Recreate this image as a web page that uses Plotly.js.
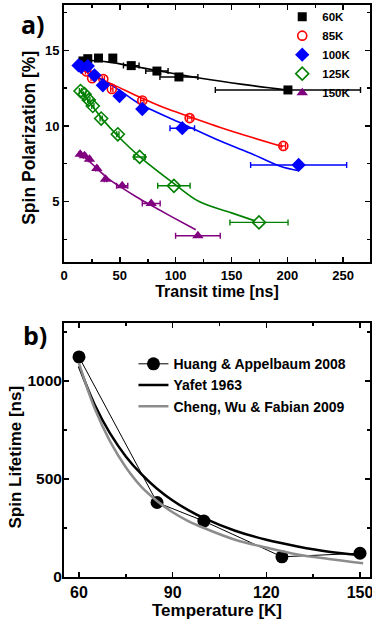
<!DOCTYPE html>
<html><head><meta charset="utf-8">
<script src="https://cdn.plot.ly/plotly-3.0.1.min.js"></script>
<style>html,body{margin:0;padding:0;background:#fff}#g{width:372px;height:622px}</style>
</head><body><div id="g"></div>
<script>
// ---- Panel a: spin polarization vs transit time ----
const t60 = [17, 21.3, 30.9, 43.7, 60.2, 83.2, 102.9, 200.5];
const p60 = [14.3, 14.45, 14.49, 14.49, 13.99, 13.63, 13.24, 12.38];
const e60 = [1, 1, 1, 1.5, 7, 10, 17, 65];
const f60x = [18, 40, 60, 83, 103, 121, 160, 200];
const f60y = [14.38, 14.22, 13.98, 13.67, 13.4, 13.17, 12.75, 12.38];

const t85 = [20.2, 25.2, 35.2, 42.8, 70.1, 112.5, 196.4];
const p85 = [13.6, 13.15, 13.1, 12.45, 11.68, 10.52, 8.68];
const e85 = [1, 1, 1, 1, 1.5, 2, 2];
const f85x = [18, 30, 45, 68, 90, 112, 140, 170, 196];
const f85y = [13.65, 13.2, 12.7, 11.9, 11.2, 10.62, 9.9, 9.2, 8.62];

const t100 = [13.0, 15.5, 21.3, 27.3, 34.8, 49.7, 70.1, 105.9, 210.1];
const p100 = [14.0, 13.9, 13.96, 13.35, 12.69, 11.98, 11.12, 9.85, 7.42];
const e100 = [1, 1, 1, 1, 1, 1, 3, 11, 43];
const f100x = [13, 30, 50, 68, 106, 140, 170, 193, 210];
const f100y = [14.1, 13.25, 12.35, 11.45, 10.15, 9.0, 8.1, 7.35, 7.03];

const t125 = [14.8, 18.4, 22.2, 25.8, 33.3, 48.2, 67.7, 98.4, 174.6];
const p125 = [12.31, 12.1, 11.72, 11.32, 10.49, 9.45, 7.95, 6.04, 3.62];
const e125 = [1, 1, 1, 1, 1, 1, 5, 14.5, 26];
const f125x = [14, 25, 35, 48, 68, 100, 121, 150, 171];
const f125y = [12.4, 11.35, 10.4, 9.35, 7.95, 6.1, 5.0, 4.25, 3.72];

const t150 = [14.5, 18.4, 22.8, 29.4, 37.2, 52.1, 78.1, 119.9];
const p150 = [8.13, 8.02, 7.8, 7.19, 6.48, 6.04, 4.87, 2.74];
const e150 = [1, 1, 1, 1, 1, 5, 8, 20];
const f150x = [14, 22, 30, 40, 52, 65, 78, 95, 118];
const f150y = [8.2, 7.7, 7.15, 6.5, 5.9, 5.3, 4.75, 4.05, 3.13];

// ---- Panel b: spin lifetime vs temperature ----
const tempH = [60, 85, 100, 125, 150];
const lifeH = [1122, 380, 285, 103, 121];
const tempY = [60, 65, 70, 75, 80, 85, 90, 95, 100, 110, 120, 130, 140, 150];
const lifeY = [1075, 880, 731, 615, 524, 450, 390, 341, 300, 236, 190, 156, 129, 112];
const tempC = [60, 65, 70, 75, 80, 85, 90, 95, 100, 110, 120, 130, 140, 151];
const lifeC = [1090, 860, 690, 560, 460, 388, 330, 285, 250, 190, 150, 115, 92, 70];

const ser = [
  {name:'60K', x:t60, y:p60, e:e60, fx:f60x, fy:f60y, c:'#000000', sym:'square', sz:9, open:false},
  {name:'85K', x:t85, y:p85, e:e85, fx:f85x, fy:f85y, c:'#ff0000', sym:'circle-open', sz:9, open:true},
  {name:'100K', x:t100, y:p100, e:e100, fx:f100x, fy:f100y, c:'#0000ff', sym:'diamond', sz:11, open:false},
  {name:'125K', x:t125, y:p125, e:e125, fx:f125x, fy:f125y, c:'#008000', sym:'diamond-open', sz:10, open:true},
  {name:'150K', x:t150, y:p150, e:e150, fx:f150x, fy:f150y, c:'#800080', sym:'triangle-up', sz:10, open:false}
];

const FONT = 'Liberation Sans, Arial, sans-serif';
const traces = [];
ser.forEach(s => {
  traces.push({x:s.fx, y:s.fy, xaxis:'x', yaxis:'y', mode:'lines', line:{color:s.c, width:1.6, shape:'spline'}, showlegend:false, hoverinfo:'skip'});
});
ser.forEach(s => {
  traces.push({x:s.x, y:s.y, xaxis:'x', yaxis:'y', mode:'markers', name:s.name, legend:'legend',
    marker:{symbol:s.sym, size:s.sz, color:s.c, line:{color:s.c, width:s.open?1.6:0}},
    error_x:{type:'data', array:s.e, visible:true, color:s.c, thickness:1.4, width:3}});
});
traces.push({x:tempH, y:lifeH, xaxis:'x2', yaxis:'y2', mode:'lines+markers', name:'Huang & Appelbaum 2008', legend:'legend2',
  line:{color:'#000', width:1}, marker:{symbol:'circle', size:13, color:'#000'}});
traces.push({x:tempY, y:lifeY, xaxis:'x2', yaxis:'y2', mode:'lines', name:'Yafet 1963', legend:'legend2',
  line:{color:'#000', width:2.5, shape:'spline'}});
traces.push({x:tempC, y:lifeC, xaxis:'x2', yaxis:'y2', mode:'lines', name:'Cheng, Wu & Fabian 2009', legend:'legend2',
  line:{color:'#8c8c8c', width:2.5, shape:'spline'}});

function ax(o){
  return Object.assign({showline:true, linecolor:'#000', linewidth:2, mirror:'ticks', ticks:'inside', ticklen:5, tickwidth:1.5, tickcolor:'#000',
    showgrid:false, zeroline:false, ticklabeloverflow:'allow', tickfont:{family:FONT, size:13, color:'#000', weight:700}}, o);
}
const mn = d => ({ticks:'inside', ticklen:3, tickwidth:1.5, tickcolor:'#000', dtick:d, showgrid:false});
const TF = (s) => ({family:FONT, size:s, color:'#000', weight:700});

const layout = {
  width:372, height:622, margin:{l:64, r:2, t:5, b:45},
  paper_bgcolor:'#fff', plot_bgcolor:'#fff', showlegend:true,
  xaxis: ax({domain:[0,1], anchor:'y', range:[0,274], tick0:0, dtick:50, minor:mn(25),
    title:{text:'Transit time [ns]', font:TF(16), standoff:4}}),
  yaxis: ax({domain:[0.5507,1], anchor:'x', range:[1,18], tick0:0, dtick:5, minor:mn(2.5)}),
  xaxis2: ax({domain:[0,1], anchor:'y2', range:[55.2,153.2], tick0:0, dtick:30, minor:mn(15),
    tickfont:TF(16), title:{text:'Temperature [K]', font:TF(17), standoff:2}}),
  yaxis2: ax({domain:[0,0.444], anchor:'x2', range:[0,1295], tick0:0, dtick:500, minor:mn(250), tickfont:TF(15.5), ticklabelstandoff:-3}),
  legend:{x:0.955, y:1.005, xanchor:'right', yanchor:'top', bgcolor:'rgba(0,0,0,0)', borderwidth:0, itemwidth:30, tracegroupgap:0,
    font:TF(11.5)},
  legend2:{x:0.227, y:0.40, xanchor:'left', yanchor:'top', bgcolor:'rgba(0,0,0,0)', borderwidth:0, itemwidth:30, tracegroupgap:0,
    font:TF(14)},
  annotations:[
    {text:'Spin Polarization [%]', xref:'paper', yref:'paper', x:-0.114, y:0.768, xanchor:'center', yanchor:'middle', textangle:-90, showarrow:false, font:TF(17.5)},
    {text:'Spin Lifetime [ns]', xref:'paper', yref:'paper', x:-0.158, y:0.21, xanchor:'center', yanchor:'middle', textangle:-90, showarrow:false, font:TF(17)},
    {text:'a)', xref:'paper', yref:'paper', x:-0.101, y:0.966, xanchor:'center', yanchor:'middle', showarrow:false,
      font:{family:'Open Sans, sans-serif', size:25, color:'#000', weight:700}},
    {text:'b)', xref:'paper', yref:'paper', x:-0.095, y:0.423, xanchor:'center', yanchor:'middle', showarrow:false,
      font:{family:'Open Sans, sans-serif', size:25, color:'#000', weight:700}}
  ]
};
Plotly.newPlot('g', traces, layout, {displayModeBar:false, staticPlot:true});
</script></body></html>
